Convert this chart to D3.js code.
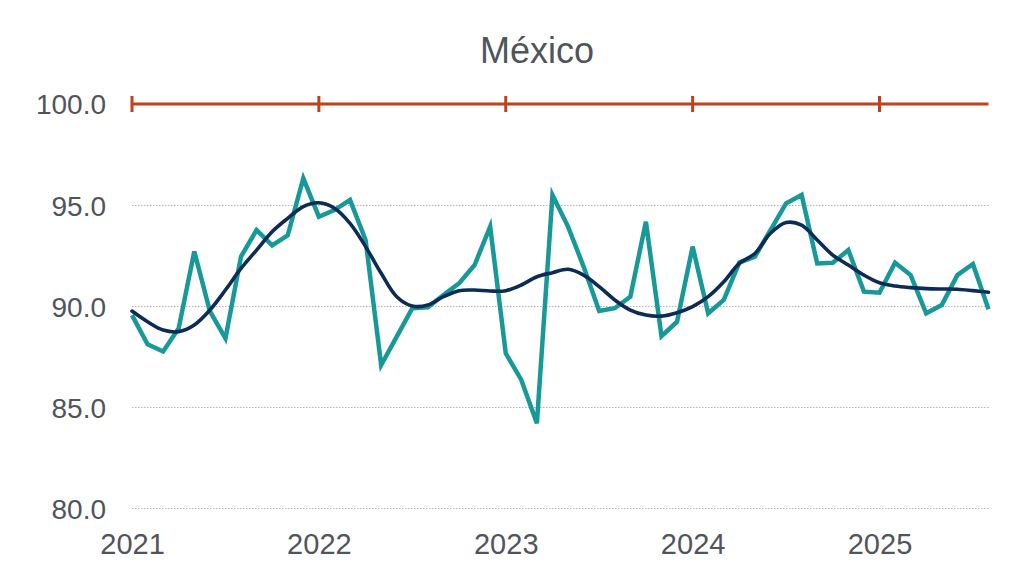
<!DOCTYPE html>
<html>
<head>
<meta charset="utf-8">
<script src="https://cdn.jsdelivr.net/npm/d3@7"></script>
<style>
html,body{margin:0;padding:0;background:#fff;}
svg{display:block;font-family:"Liberation Sans",Arial,Helvetica,sans-serif;}
</style>
</head>
<body>
<svg id="chart" width="1024" height="588"></svg>
<script>
// ---- data ----
const title = "México";
const yearTicks = ["2021","2022","2023","2024","2025"];
const yTicks = [80, 85, 90, 95, 100];
const referenceLevel = 100;
// monthly index (Jan 2021 - Aug 2025)
const monthly = [
  89.55, 88.1, 87.75, 88.9, 92.7, 89.75, 88.4, 92.45, 93.76, 93.0, 93.5, 96.32,
  94.42, 94.75, 95.25, 93.27, 87.08, 88.48, 89.89, 89.94, 90.54, 91.12, 92.03, 93.93,
  87.66, 86.34, 84.19, 95.5, 93.93, 91.95, 89.75, 89.89, 90.46, 94.17, 88.51, 89.22,
  92.94, 89.64, 90.3, 92.15, 92.44, 93.76, 95.08, 95.5, 92.11, 92.14, 92.77, 90.71,
  90.66, 92.14, 91.53, 89.64, 90.05, 91.53, 92.08, 89.84
];
// trend
const trend = [
  89.75, 89.22, 88.81, 88.73, 89.06, 89.8, 90.79, 91.86, 92.77, 93.68, 94.34, 94.92,
  95.11, 94.84, 94.09, 92.94, 91.62, 90.46, 90.0, 90.05, 90.46, 90.76, 90.79, 90.74,
  90.76, 91.04, 91.45, 91.65, 91.82, 91.53, 90.96, 90.3, 89.8, 89.55, 89.5, 89.67,
  89.97, 90.46, 91.2, 92.11, 92.6, 93.6, 94.13, 94.0, 93.27, 92.52, 92.03, 91.53,
  91.15, 90.99, 90.91, 90.86, 90.84, 90.83, 90.76, 90.68
];

// ---- layout ----
const mLeft = 132, mRight = 988.5, mTop = 104, mBottom = 508;
const svg = d3.select("#chart");
const textColor = "#50555b";

const x = d3.scaleLinear().domain([0, monthly.length - 1]).range([mLeft, mRight]);
const y = d3.scaleLinear().domain([80, 100]).range([mBottom, mTop]);

// title
svg.append("text")
  .attr("x", 537).attr("y", 63)
  .attr("text-anchor", "middle")
  .attr("font-size", 36)
  .attr("fill", textColor)
  .text(title);

// gridlines + y labels
const yAxis = d3.axisLeft(y)
  .tickValues(yTicks.filter(v => v !== referenceLevel))
  .tickSize(-(mRight - mLeft))
  .tickFormat(d3.format(".1f"));
const gy = svg.append("g").attr("transform", `translate(${mLeft},0)`).call(yAxis);
gy.select(".domain").remove();
gy.selectAll(".tick line")
  .attr("stroke", "#b5b5b5")
  .attr("stroke-width", 1)
  .attr("stroke-dasharray", "1.5,1.5");
gy.selectAll(".tick text")
  .attr("x", -26)
  .attr("dy", "0.36em")
  .attr("font-size", 28)
  .attr("fill", textColor)
  .attr("font-family", "Liberation Sans, Arial, sans-serif");

// label for reference level
svg.append("text")
  .attr("x", mLeft - 26).attr("y", y(referenceLevel))
  .attr("dy", "0.36em")
  .attr("text-anchor", "end")
  .attr("font-size", 28)
  .attr("fill", textColor)
  .text(d3.format(".1f")(referenceLevel));

// reference line at 100 with year ticks
const yearIdx = yearTicks.map((d, i) => i * 12);
const refColor = "#c2401b";
svg.append("line")
  .attr("x1", x(0)).attr("x2", x(monthly.length - 1))
  .attr("y1", y(referenceLevel)).attr("y2", y(referenceLevel))
  .attr("stroke", refColor).attr("stroke-width", 3);
svg.append("g").selectAll("line").data(yearIdx).join("line")
  .attr("x1", d => x(d)).attr("x2", d => x(d))
  .attr("y1", y(referenceLevel) - 8).attr("y2", y(referenceLevel) + 8)
  .attr("stroke", refColor).attr("stroke-width", 3);

// x axis labels
const xAxis = d3.axisBottom(x)
  .tickValues(yearIdx)
  .tickSize(0)
  .tickFormat((d, i) => yearTicks[i]);
const gx = svg.append("g").attr("transform", `translate(0,${mBottom})`).call(xAxis);
gx.select(".domain").remove();
gx.selectAll(".tick text")
  .attr("y", 25)
  .attr("dy", "0.71em")
  .attr("font-size", 29)
  .attr("fill", textColor)
  .attr("font-family", "Liberation Sans, Arial, sans-serif");

// monthly line
svg.append("path")
  .datum(monthly)
  .attr("fill", "none")
  .attr("stroke", "#17999a")
  .attr("stroke-width", 4.5)
  .attr("stroke-linejoin", "miter")
  .attr("d", d3.line().x((d, i) => x(i)).y(d => y(d)));

// trend line
svg.append("path")
  .datum(trend)
  .attr("fill", "none")
  .attr("stroke", "#0c2b55")
  .attr("stroke-width", 3.6)
  .attr("stroke-linecap", "round")
  .attr("d", d3.line().x((d, i) => x(i)).y(d => y(d)).curve(d3.curveCatmullRom));
</script>
</body>
</html>
